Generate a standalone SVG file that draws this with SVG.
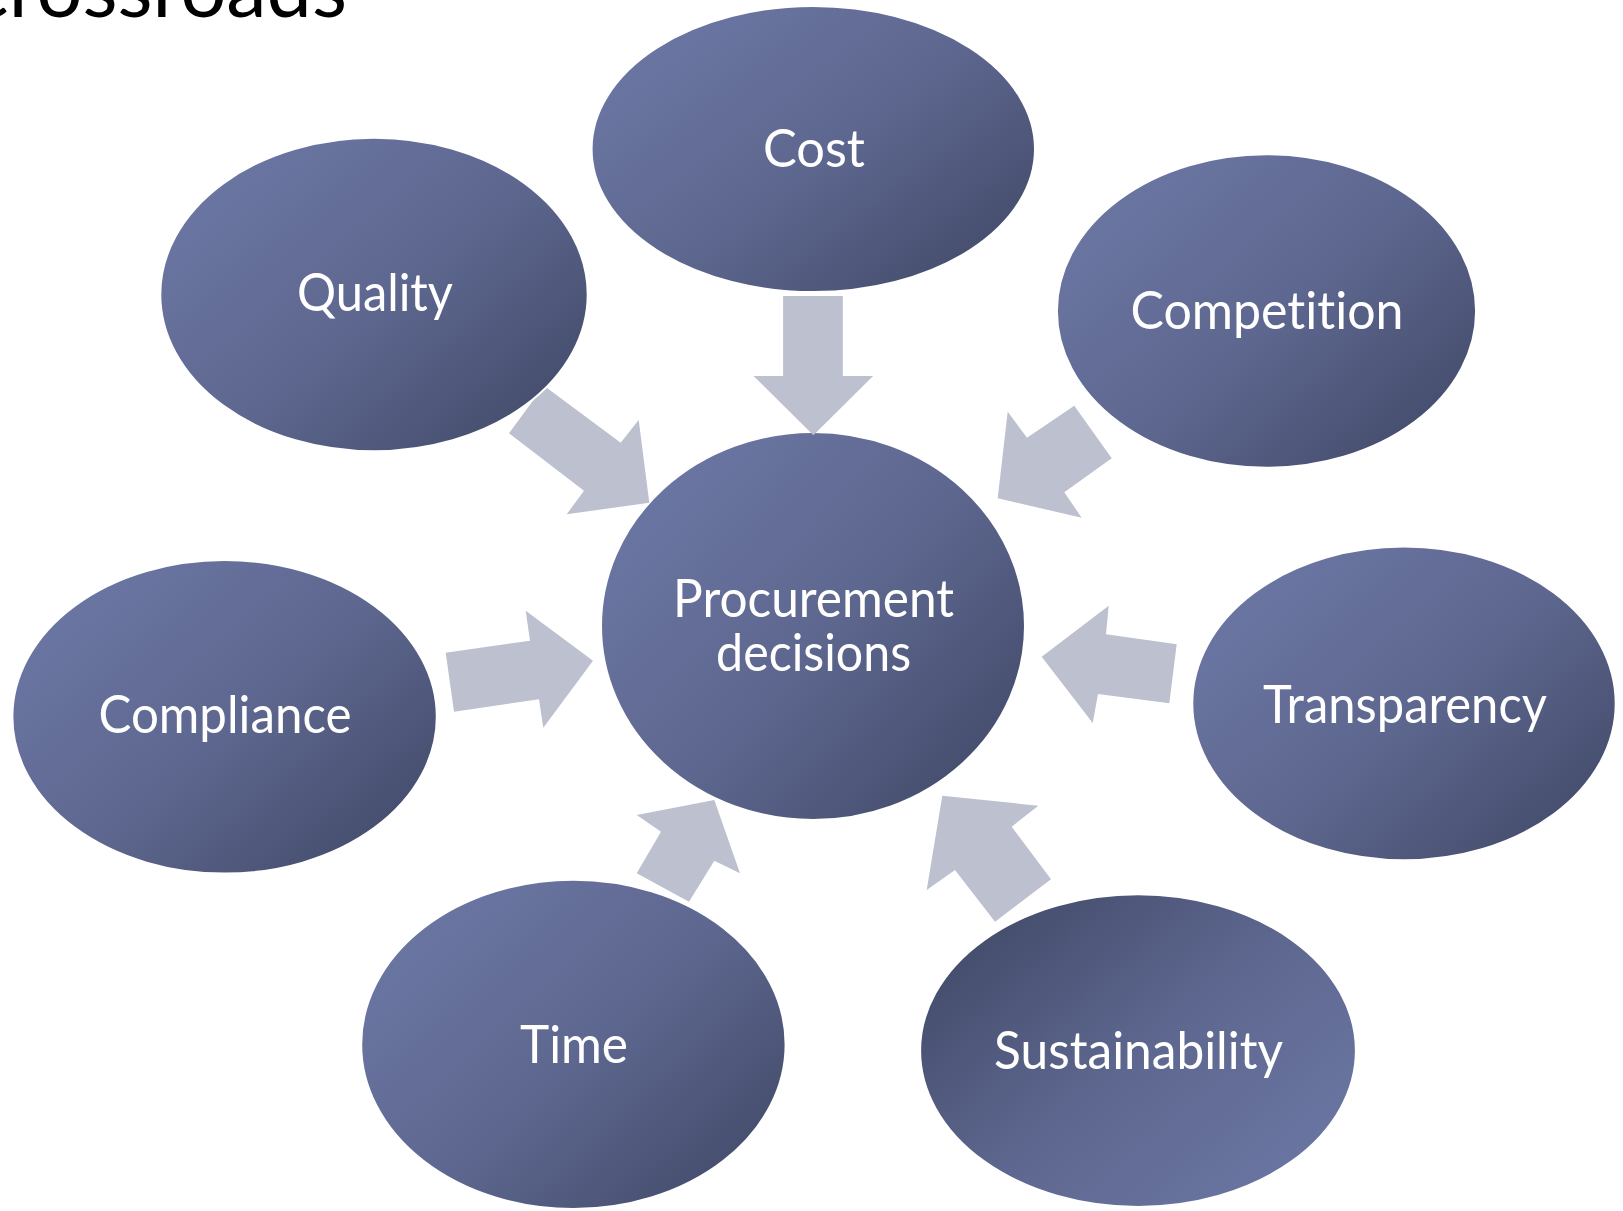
<svg xmlns="http://www.w3.org/2000/svg" width="1623" height="1211" viewBox="0 0 1623 1211">
  <defs>
    <linearGradient id="bubble" x1="0.05" y1="0.15" x2="0.95" y2="0.9">
      <stop offset="0" stop-color="#6B77A4"/>
      <stop offset="0.5" stop-color="#5E678F"/>
      <stop offset="1" stop-color="#434B6A"/>
    </linearGradient>
    <linearGradient id="bubbleRev" x1="0.95" y1="0.9" x2="0.05" y2="0.15">
      <stop offset="0" stop-color="#6B77A4"/>
      <stop offset="0.5" stop-color="#5E678F"/>
      <stop offset="1" stop-color="#434B6A"/>
    </linearGradient>
    <style>
      .bubble { fill: url(#bubble); stroke: #ffffff; stroke-width: 2; }
      .bubble-rev { fill: url(#bubbleRev); stroke: #ffffff; stroke-width: 2; }
      .arrow { fill: #BCC0CF; stroke: none; }
      text { font-family: Lato, "Open Sans", "DejaVu Sans", sans-serif; font-variant-ligatures: none; font-feature-settings: "liga" 0, "clig" 0; }
      .label { font-size: 52px; fill: #ffffff; text-anchor: middle; }
      .title { font-size: 82px; fill: #000000; }
    </style>
  </defs>

  <rect width="1623" height="1211" fill="#ffffff"/>

  <!-- slide title, mostly above the visible area -->
  <text class="title" x="-30" y="17" textLength="377" lengthAdjust="spacingAndGlyphs">crossroads</text>

  <!-- central node -->
  <g id="node-procurement">
    <ellipse class="bubble" cx="813" cy="626" rx="212" ry="194"/>
    <text class="label" x="813.6" y="617" textLength="281" lengthAdjust="spacingAndGlyphs">Procurement</text>
    <text class="label" x="813.6" y="670.7" textLength="195" lengthAdjust="spacingAndGlyphs">decisions</text>
  </g>

  <!-- block arrows pointing in to the centre -->
  <g id="connectors">
    <polygon id="arrow-cost" class="arrow" points="783.1,296 842.8,296 842.8,376 873.1,376 813.4,435.3 753.6,376 783.1,376"/>
    <polygon id="arrow-quality" class="arrow" points="544,385.8 620.7,442.7 638.7,420 649.3,502.7 566.7,514.3 584,490.7 509,433.3"/>
    <polygon id="arrow-competition" class="arrow" points="1007.7,411.7 1027,437.7 1074.3,405.7 1111.7,458.3 1064.3,492.3 1081.7,517.7 997.7,498.3"/>
    <polygon id="arrow-compliance" class="arrow" points="445.7,652.7 530,640.7 525.7,610.7 593,660.7 543.3,727.7 539,699.3 454,711.7"/>
    <polygon id="arrow-transparency" class="arrow" points="1108.7,605.7 1106,634.3 1176.7,644.3 1169.3,703.3 1098,694 1092.7,723 1041.7,656.7"/>
    <polygon id="arrow-time" class="arrow" points="714.3,800 740,873.3 714.3,860.7 689,901.7 636.7,873.3 661,831.7 636.7,815"/>
    <polygon id="arrow-sustainability" class="arrow" points="942.3,795.7 1038.3,805.7 1011.7,826.7 1051,879.3 995,921.7 955,870 926.7,890"/>
  </g>

  <!-- outer nodes -->
  <g id="node-cost">
    <ellipse class="bubble" cx="813.3" cy="149" rx="221.7" ry="143"/>
    <text class="label" x="814" y="166.6" textLength="102" lengthAdjust="spacingAndGlyphs">Cost</text>
  </g>
  <g id="node-quality">
    <ellipse class="bubble" cx="374" cy="294.5" rx="213.7" ry="156.8"/>
    <text class="label" x="375" y="310.5" textLength="156" lengthAdjust="spacingAndGlyphs">Quality</text>
  </g>
  <g id="node-competition">
    <ellipse class="bubble" cx="1266.5" cy="311" rx="209.6" ry="156.8"/>
    <text class="label" x="1267" y="329" textLength="273" lengthAdjust="spacingAndGlyphs">Competition</text>
  </g>
  <g id="node-compliance">
    <ellipse class="bubble" cx="224.6" cy="716.8" rx="212.2" ry="156.8"/>
    <text class="label" x="225" y="733" textLength="253" lengthAdjust="spacingAndGlyphs">Compliance</text>
  </g>
  <g id="node-transparency">
    <ellipse class="bubble" cx="1404" cy="703.4" rx="211.7" ry="156.8"/>
    <text class="label" x="1405" y="722.5" textLength="284" lengthAdjust="spacingAndGlyphs">Transparency</text>
  </g>
  <g id="node-time">
    <ellipse class="bubble" cx="573.4" cy="1044.4" rx="212.2" ry="164.6"/>
    <text class="label" x="574" y="1063" textLength="108" lengthAdjust="spacingAndGlyphs">Time</text>
  </g>
  <g id="node-sustainability">
    <ellipse class="bubble-rev" cx="1138" cy="1050.6" rx="217.9" ry="156.3"/>
    <text class="label" x="1138.6" y="1069" textLength="289" lengthAdjust="spacingAndGlyphs">Sustainability</text>
  </g>
</svg>
